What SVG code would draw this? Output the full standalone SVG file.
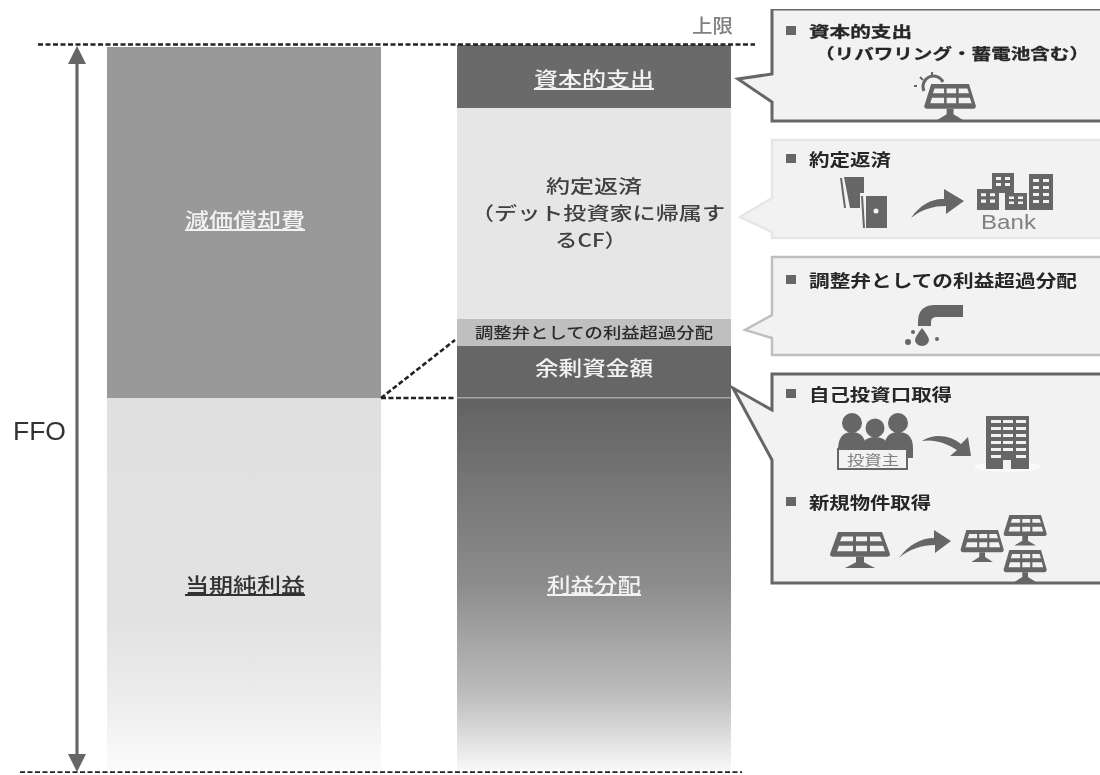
<svg xmlns="http://www.w3.org/2000/svg" width="1100" height="775" viewBox="0 0 1100 775">
<style>
text{font-family:"Noto Sans CJK JP","Liberation Sans",sans-serif}
.big{font-size:20px;font-weight:500;text-anchor:middle}
.mid{font-size:18.5px;font-weight:500;text-anchor:middle;fill:#404040}
.w{fill:#f2f2f2}
.u{text-decoration:underline}
.d{fill:#333}
.h{font-size:17px;font-weight:700;fill:#262626}
.h2{font-size:15px;font-weight:700;fill:#262626;stroke:#262626;stroke-width:.3}
.sq{fill:#666}
.ic{fill:#666}
.dash{stroke:#222;stroke-width:2.6;stroke-dasharray:5 2.5;fill:none}
.hole{fill:#f2f2f2}
</style>
<defs>
<filter id="b" x="0" y="0" width="100%" height="100%"><feGaussianBlur stdDeviation="0.55"/></filter>
<linearGradient id="gl" x1="0" y1="0" x2="0" y2="1"><stop offset="0" stop-color="#e0e0e0"/><stop offset=".6" stop-color="#e2e2e2"/><stop offset=".8" stop-color="#ececec"/><stop offset="1" stop-color="#fbfbfb"/></linearGradient>
<linearGradient id="gr" x1="0" y1="0" x2="0" y2="1"><stop offset="0" stop-color="#626262"/><stop offset=".5" stop-color="#8c8c8c"/><stop offset=".8" stop-color="#bdbdbd"/><stop offset="1" stop-color="#f8f8f8"/></linearGradient>
<g id="panel">
<path class="ic" d="M6 0H50L58 24Q58 27 55 27H1Q-2 27 -2 24Z"/>
<path class="hole" d="M10 5H21V10H8ZM24 5H35V10H24ZM38 5H48L50 10H38ZM7 15H21V21H5ZM24 15H35V21H24ZM38 15H51L53 21H38Z"/>
<path class="ic" d="M24 27H32V33L43 39H13L24 33Z"/>
</g>
<g id="bldg">
<rect class="ic" width="22" height="20"/>
<path class="hole" d="M4 4H9V7H4ZM13 4H18V7H13ZM4 10H9V13H4ZM13 10H18V13H13Z"/>
</g>
</defs>
<rect width="1100" height="775" fill="#fff"/>
<g filter="url(#b)">
<g id="bar-left">
<rect x="107" y="47" width="274" height="351" fill="#999"/>
<text class="big w u" x="245" y="228" textLength="120" lengthAdjust="spacingAndGlyphs">減価償却費</text>
<rect x="107" y="398" width="274" height="372" fill="url(#gl)"/>
<text class="big d u" x="245" y="593" textLength="120" lengthAdjust="spacingAndGlyphs">当期純利益</text>
</g>
<g id="bar-right">
<rect x="457" y="45" width="274" height="63" fill="#6a6a6a"/>
<text class="big w u" x="594" y="87" textLength="120" lengthAdjust="spacingAndGlyphs">資本的支出</text>
<rect x="457" y="108" width="274" height="211" fill="#e6e6e6"/>
<text class="mid" x="594" y="193" textLength="96" lengthAdjust="spacingAndGlyphs">約定返済</text>
<text class="mid" x="598" y="220" textLength="254" lengthAdjust="spacingAndGlyphs">（デット投資家に帰属す</text>
<text class="mid" x="591" y="247" textLength="72" lengthAdjust="spacingAndGlyphs">るCF）</text>
<rect x="457" y="319" width="274" height="27" fill="#bfbfbf"/>
<text x="594" y="338" font-size="14.5" font-weight="500" text-anchor="middle" fill="#2a2a2a" textLength="238" lengthAdjust="spacingAndGlyphs">調整弁としての利益超過分配</text>
<rect x="457" y="346" width="274" height="51" fill="#666"/>
<text class="big w" x="594" y="376" textLength="118" lengthAdjust="spacingAndGlyphs">余剰資金額</text>
<rect x="457" y="397" width="274" height="373" fill="url(#gr)"/>
<rect x="457" y="397" width="274" height="1.5" fill="#a6a6a6"/>
<text class="big w u" x="594" y="593" textLength="94" lengthAdjust="spacingAndGlyphs">利益分配</text>
</g>
<g id="connectors">
<path class="dash" d="M38 44.500H755"/>
<path class="dash" d="M20 772.500H742"/>
<path class="dash" d="M381 398L455 340"/>
<path class="dash" d="M381 398H455"/>
<path d="M77 64V754" stroke="#666" stroke-width="3.200" fill="none"/>
<path d="M68 64L77 46L86 64Z" fill="#666"/>
<path d="M68 754L77 772L86 754Z" fill="#666"/>
</g>
<g id="label-ffo"><text x="13" y="440" font-size="26" fill="#333" font-family="Liberation Sans" style="font-family:'Liberation Sans',sans-serif" textLength="53" lengthAdjust="spacingAndGlyphs">FFO</text></g>
<g id="label-limit"><text x="692" y="33" font-size="19" font-weight="500" fill="#808080" textLength="41" lengthAdjust="spacingAndGlyphs">上限</text></g>
<g id="callout-capex">
<path d="M1102 9H772V74L738 79L772 102V121H1102Z" fill="#f2f2f2" stroke="#666" stroke-width="3"/>
<rect class="sq" x="786" y="26" width="10" height="9"/>
<text class="h2" x="809" y="37" textLength="103" lengthAdjust="spacingAndGlyphs">資本的支出</text>
<text class="h2" x="815" y="59" textLength="274" lengthAdjust="spacingAndGlyphs">（リバワリング・蓄電池含む）</text>
<path d="M924 91a10 10 0 0 1 19 -9" fill="none" stroke="#666" stroke-width="3"/>
<path d="M923 80l-3 -3M932 75v-3M917 86h-3" stroke="#666" stroke-width="2"/>
<use href="#panel" transform="translate(926 84) scale(.86,.92)"/>
</g>
<g id="callout-repay">
<path d="M1102 140H772V198L740 217L772 232V238H1102Z" fill="#f2f2f2" stroke="#e6e6e6" stroke-width="2.500"/>
<rect class="sq" x="786" y="154" width="10" height="9"/>
<text class="h" x="809" y="166" textLength="82" lengthAdjust="spacingAndGlyphs">約定返済</text>
<path class="ic" d="M844 177H864V208H850ZM840 178H842L846 208H844Z"/>
<path class="hole" d="M860 193H869V198H888V230H860Z"/>
<path class="ic" d="M866 196H887V228H866ZM861 196H863L865 228H863Z"/>
<circle class="hole" cx="876" cy="211" r="2.500"/>
<path class="ic" d="M911 218C920 204 934 198 944 199V189L964 201L946 214V206C934 206 922 209 911 218Z"/>
<use href="#bldg" transform="translate(992 173)"/>
<use href="#bldg" transform="translate(977 189) scale(1,1.050)"/>
<use href="#bldg" transform="translate(1005 193) scale(1,.85)"/>
<g transform="translate(1029 174)"><rect class="ic" width="24" height="36"/><path class="hole" d="M4 5H10V8H4ZM14 5H20V8H14ZM4 12H10V15H4ZM14 12H20V15H14ZM4 19H10V22H4ZM14 19H20V22H14ZM4 26H10V29H4ZM14 26H20V29H14Z"/></g>
<text x="981" y="229" font-size="21" fill="#808080" textLength="55" lengthAdjust="spacingAndGlyphs" style="font-family:'Liberation Sans',sans-serif">Bank</text>
</g>
<g id="callout-adjust">
<path d="M1102 257H772V315L745 330L772 338V355H1102Z" fill="#f2f2f2" stroke="#bfbfbf" stroke-width="2.500"/>
<rect class="sq" x="786" y="275" width="10" height="9"/>
<text class="h" x="809" y="287" textLength="268" lengthAdjust="spacingAndGlyphs">調整弁としての利益超過分配</text>
<path class="ic" d="M963 305H935Q918 305 918 322V326H931V322Q931 317 937 317H963Z"/>
<path class="ic" d="M922 328Q929 337 929 340A7 6 0 0 1 915 340Q915 337 922 328Z"/>
<circle class="ic" cx="913" cy="332" r="2"/><circle class="ic" cx="908" cy="342" r="3"/><circle class="ic" cx="937" cy="339" r="2"/>
</g>
<g id="callout-buy">
<path d="M1102 374H772V410L733 388L772 460V583H1102Z" fill="#f2f2f2" stroke="#666" stroke-width="3"/>
<rect class="sq" x="786" y="389" width="10" height="9"/>
<text class="h" x="809" y="401" textLength="143" lengthAdjust="spacingAndGlyphs">自己投資口取得</text>
<g class="ic"><circle cx="852" cy="423" r="10"/><circle cx="898" cy="423" r="10"/><circle cx="875" cy="428" r="9.500"/>
<path d="M838 450Q838 432 852 432Q866 432 866 450V456H838Z"/><path d="M884 450Q884 432 898 432Q913 432 913 448V458H884Z"/><path d="M860 455Q860 437 875 437Q890 437 890 455V458H860Z"/></g>
<rect x="838" y="449" width="69" height="20" fill="#f2f2f2" stroke="#666" stroke-width="2"/>
<text x="847" y="465" font-size="14" fill="#808080" textLength="52" lengthAdjust="spacingAndGlyphs">投資主</text>
<path class="ic" d="M922 441C934 433 950 435 961 444L968 437L971 456L950 456L957 450C946 443 934 439 922 441Z"/>
<ellipse cx="1007" cy="467" rx="33" ry="5" fill="#fafafa"/>
<rect class="ic" x="986" y="416" width="43" height="53"/>
<g class="hole"><path d="M991 420H1001V423H991ZM1003 420H1013V423H1003ZM1016 420H1026V423H1016ZM991 427H1001V430H991ZM1003 427H1013V430H1003ZM1016 427H1026V430H1016ZM991 434H1001V437H991ZM1003 434H1013V437H1003ZM1016 434H1026V437H1016ZM991 441H1001V444H991ZM1003 441H1013V444H1003ZM1016 441H1026V444H1016ZM991 448H1001V451H991ZM1003 448H1013V451H1003ZM1016 448H1026V451H1016ZM991 455H1001V458H991ZM1016 455H1026V458H1016Z"/><rect x="1003" y="460" width="8" height="9"/></g>
<rect class="sq" x="786" y="497" width="10" height="9"/>
<text class="h" x="809" y="509" textLength="122" lengthAdjust="spacingAndGlyphs">新規物件取得</text>
<use href="#panel" transform="translate(832 532) scale(1,.92)"/>
<path class="ic" d="M899 558C908 545 921 538 934 538V530L951 541L935 553V545C922 545 909 549 899 558Z"/>
<use href="#panel" transform="translate(962 530) scale(.72,.82)"/>
<use href="#panel" transform="translate(1005 515) scale(.72,.78)"/>
<use href="#panel" transform="translate(1005 550) scale(.72,.82)"/>
</g>
</g>
</svg>
